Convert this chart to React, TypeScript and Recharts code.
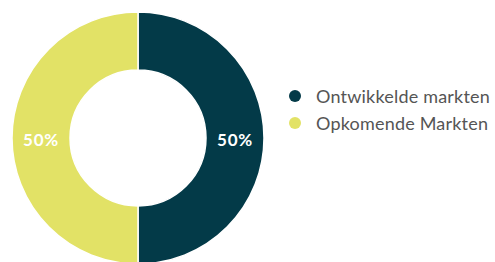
import React from "react";
import { PieChart, Pie, Cell } from "recharts";

const categories = ["Ontwikkelde markten", "Opkomende Markten"];
const values = [50, 50];
const labels = ["50%", "50%"];
const colors = ["#033a48", "#e2e266"];

const data = categories.map((name, i) => ({ name, value: values[i], label: labels[i] }));

const RADIAN = Math.PI / 180;

const renderLabel = (props: any) => {
  const { cx, cy, midAngle, innerRadius, outerRadius, index } = props;
  const r = (innerRadius + outerRadius) / 2;
  const x = cx + r * Math.cos(-midAngle * RADIAN);
  const y = cy + r * Math.sin(-midAngle * RADIAN);
  return (
    <text
      x={x}
      y={y + 1}
      fill="#ffffff"
      textAnchor="middle"
      dominantBaseline="central"
      fontFamily="Lato, sans-serif"
      fontWeight={700}
      fontSize={17}
      letterSpacing={0.8}
    >
      {data[index].label}
    </text>
  );
};

export default function App() {
  return (
    <div style={{ position: "absolute", left: 0, top: 0, width: 495, height: 262 }}>
      <PieChart width={495} height={262} margin={{ top: 0, right: 0, bottom: 0, left: 0 }}>
        <Pie
          data={data}
          dataKey="value"
          nameKey="name"
          cx={138}
          cy={138}
          innerRadius={68}
          outerRadius={126}
          startAngle={90}
          endAngle={-270}
          stroke="#ffffff"
          strokeWidth={1.5}
          label={renderLabel}
          labelLine={false}
          isAnimationActive={false}
        >
          {data.map((d, i) => (
            <Cell key={d.name} fill={colors[i]} />
          ))}
        </Pie>
        <g>
          {data.map((d, i) => (
            <g key={d.name}>
              <circle cx={295} cy={96 + i * 27} r={6} fill={colors[i]} />
              <text
                x={316}
                y={96 + i * 27}
                dominantBaseline="central"
                fill="#555555"
                fontFamily="Lato, sans-serif"
                fontSize={18}
                letterSpacing={0.2}
              >
                {d.name}
              </text>
            </g>
          ))}
        </g>
      </PieChart>
    </div>
  );
}
